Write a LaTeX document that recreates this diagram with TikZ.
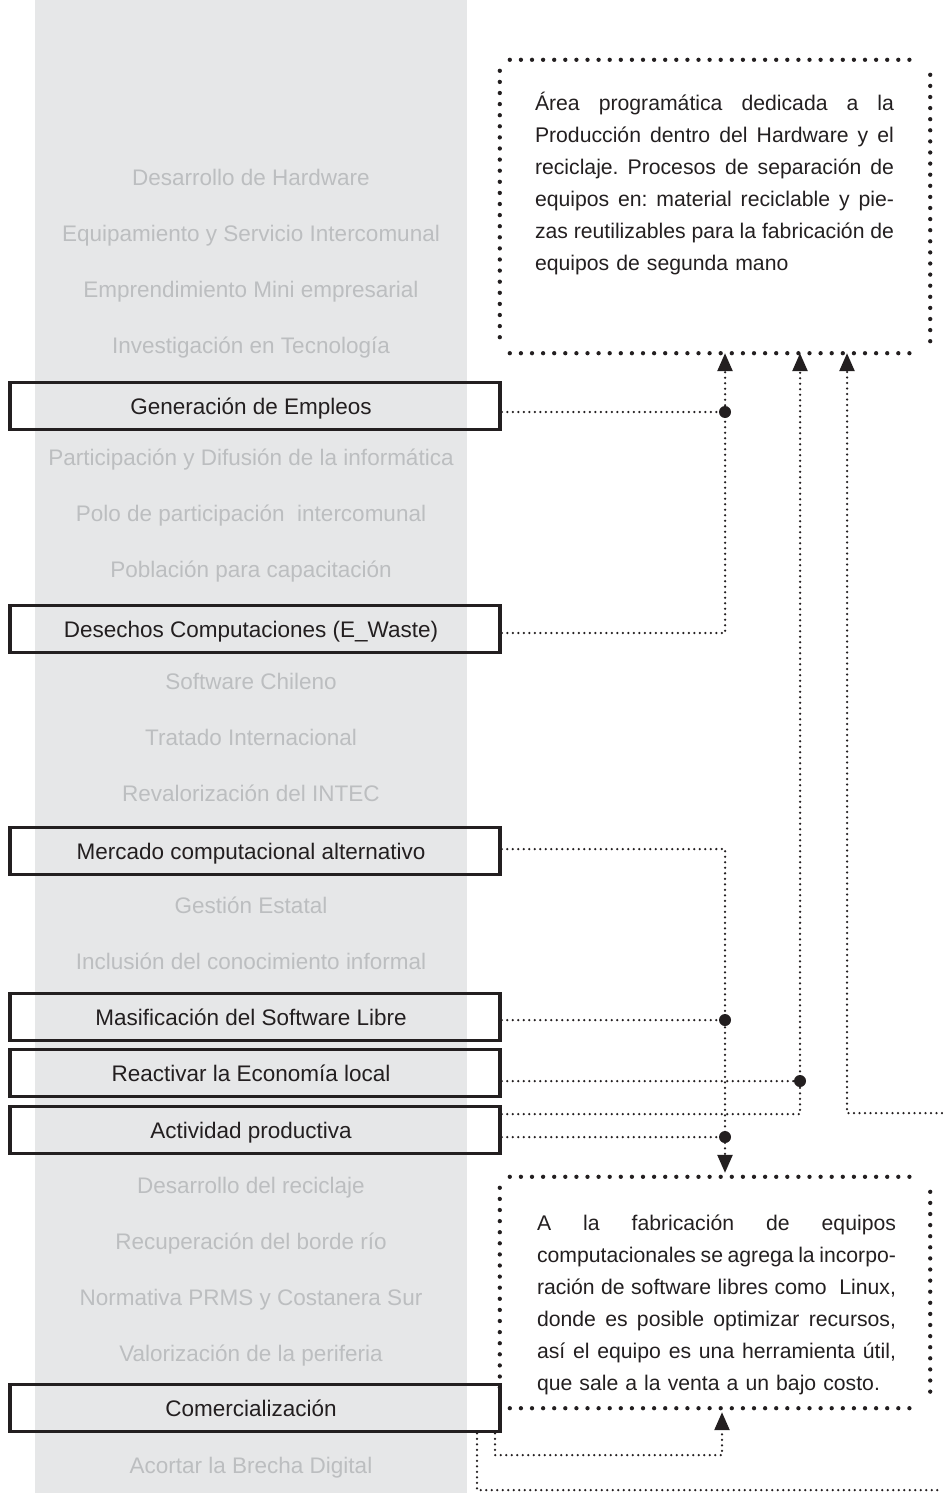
\documentclass[tikz,border=0pt]{standalone}
\usepackage{fontspec}
\setmainfont{Liberation Sans}
\usetikzlibrary{arrows.meta,calc}
\definecolor{ink}{HTML}{231F20}
\definecolor{band}{HTML}{E6E7E8}
\definecolor{faint}{HTML}{BCBEC0}
\frenchspacing
% one justified line of a description paragraph: word spaces share the slack
\newcommand{\jline}[1]{\leavevmode\hbox to 359pt{\spaceskip=0.278em plus 1fil minus 0.1em\relax #1}}
\begin{document}
\begin{tikzpicture}[x=1pt,y=-1pt,
  mainbox/.style={draw=ink,line width=3.5pt,minimum width=490pt,minimum height=47pt,inner sep=0pt},
  boxlabel/.style={font=\fontsize{22.5}{27}\selectfont,text=ink,text height=16.1pt,text depth=0pt,inner sep=0pt},
  faintlabel/.style={font=\fontsize{22.5}{27}\selectfont,text=faint,anchor=base,inner sep=0pt},
  panel/.style={minimum width=430pt,inner sep=0pt},
  bigdots/.style={draw=ink,line width=4.3pt,line cap=round,dash pattern=on 0pt off 11.1pt},
  conn/.style={draw=ink,line width=2.5pt,line cap=round,dash pattern=on 0pt off 5.5pt},
  arr/.style={-{Triangle[width=15pt,length=18pt]}},
  jdot/.style={circle,fill=ink,inner sep=0pt,minimum size=12pt},
  paratext/.style={font=\fontsize{21.2}{32}\selectfont,text=ink,text width=359pt,align=left,inner sep=0pt,anchor=base west}]

\useasboundingbox (0,0) rectangle (942,1493);
% grey column behind the list
\fill[band] (35,0) rectangle (467,1493);

% faint list entries
\node[faintlabel] (f0)  at (251,185)  {Desarrollo de Hardware};
\node[faintlabel] (f1)  at (251,241)  {Equipamiento y Servicio Intercomunal};
\node[faintlabel] (f2)  at (251,297)  {Emprendimiento Mini empresarial};
\node[faintlabel] (f3)  at (251,353)  {Investigación en Tecnología};
\node[faintlabel] (f5)  at (251,465)  {Participación y Difusión de la informática};
\node[faintlabel] (f6)  at (251,521)  {Polo de participación\ \ intercomunal};
\node[faintlabel] (f7)  at (251,577)  {Población para capacitación};
\node[faintlabel] (f9)  at (251,689)  {Software Chileno};
\node[faintlabel] (f10) at (251,745)  {Tratado Internacional};
\node[faintlabel] (f11) at (251,801)  {Revalorización del INTEC};
\node[faintlabel] (f13) at (251,913)  {Gestión Estatal};
\node[faintlabel] (f14) at (251,969)  {Inclusión del conocimiento informal};
\node[faintlabel] (f18) at (251,1193) {Desarrollo del reciclaje};
\node[faintlabel] (f19) at (251,1249) {Recuperación del borde río};
\node[faintlabel] (f20) at (251,1305) {Normativa PRMS y Costanera Sur};
\node[faintlabel] (f21) at (251,1361) {Valorización de la periferia};
\node[faintlabel] (f23) at (251,1473) {Acortar la Brecha Digital};

% highlighted entries
\node[mainbox,label={[boxlabel,xshift=-4pt]center:Generación de Empleos}] (gen) at (255,406) {};
\node[mainbox,label={[boxlabel,xshift=-4pt]center:Desechos Computaciones (E\_Waste)}] (des) at (255,629) {};
\node[mainbox,label={[boxlabel,xshift=-4pt]center:Mercado computacional alternativo}] (mer) at (255,851) {};
\node[mainbox,label={[boxlabel,xshift=-4pt]center:Masificación del Software Libre}] (mas) at (255,1017) {};
\node[mainbox,label={[boxlabel,xshift=-4pt]center:Reactivar la Economía local}] (rea) at (255,1073) {};
\node[mainbox,label={[boxlabel,xshift=-4pt]center:Actividad productiva}] (act) at (255,1130) {};
\node[mainbox,label={[boxlabel,xshift=-4pt]center:Comercialización}] (com) at (255,1408) {};

% dotted description panels
\node[panel,minimum height=293pt] (prod) at (715,206.5) {};
\node[panel,minimum height=231pt] (fab) at (715,1292.5) {};
\foreach \p in {prod,fab}{
  \draw[bigdots] ($(\p.north west)+(10,0)$) -- ($(\p.north east)+(-10,0)$);
  \draw[bigdots] ($(\p.south west)+(10,0)$) -- ($(\p.south east)+(-10,0)$);
  \draw[bigdots] ($(\p.north west)+(0,11)$) -- ($(\p.south west)+(0,-13)$);
  \draw[bigdots] ($(\p.north east)+(0,15)$) -- ($(\p.south east)+(0,-10)$);
}

\node[paratext] (prodtext) at ($(prod.north west)+(35,51)$) {%
\jline{Área programática dedicada a la}\\
\jline{Producción dentro del Hardware y el}\\
\jline{reciclaje. Procesos de separación de}\\
\jline{equipos en: material reciclable y pie-}\\
\jline{zas reutilizables para la fabricación de}\\
equipos de segunda mano};

\node[paratext] (fabtext) at ($(fab.north west)+(37,54)$) {%
\jline{A la fabricación de equipos}\\
\jline{computacionales se agrega la incorpo-}\\
\jline{ración de software libres como\ \ Linux,}\\
\jline{donde es posible optimizar recursos,}\\
\jline{así el equipo es una herramienta útil,}\\
que sale a la venta a un bajo costo.};

% connector routing points
\coordinate (kGen)  at (725,412);
\coordinate (kDes)  at (725,633);
\coordinate (kMer)  at (725,849);
\coordinate (kMas)  at (725,1020);
\coordinate (kActA) at (725,1137);
\coordinate (kRea)  at (800,1081);
\coordinate (kActB) at (800,1114);
\coordinate (kOff)  at (847,1113);
\coordinate (offR)  at (942,1113);
\coordinate (kComA) at (495,1455);
\coordinate (kComB) at (722,1455);
\coordinate (kComC) at (477,1490);
\coordinate (offB)  at (942,1490);

% connectors into the upper panel
\draw[conn] (gen.east |- kGen) -- (kGen);
\draw[conn,arr] (des.east |- kDes) -- (kDes) -- (kDes |- prod.south);
\draw[conn] (rea.east |- kRea) -- (kRea);
\draw[conn,arr] (act.east |- kActB) -- (kActB) -- (kActB |- prod.south);
\draw[conn,arr] (offR) -- (kOff) -- (kOff |- prod.south);

% connectors into the lower panel
\draw[conn,arr] (mer.east |- kMer) -- (kMer) -- ($(kMer |- fab.north)+(0,-4)$);
\draw[conn] (mas.east |- kMas) -- (kMas);
\draw[conn] (act.east |- kActA) -- (kActA);
\draw[conn,arr] (kComA |- com.south) -- (kComA) -- (kComB) -- ($(kComB |- fab.south)+(0,4)$);
\draw[conn] (kComC |- com.south) -- (kComC) -- (offB);

% junction dots
\foreach \k in {kGen,kMas,kActA,kRea}{ \node[jdot] at (\k) {}; }
\end{tikzpicture}
\end{document}
